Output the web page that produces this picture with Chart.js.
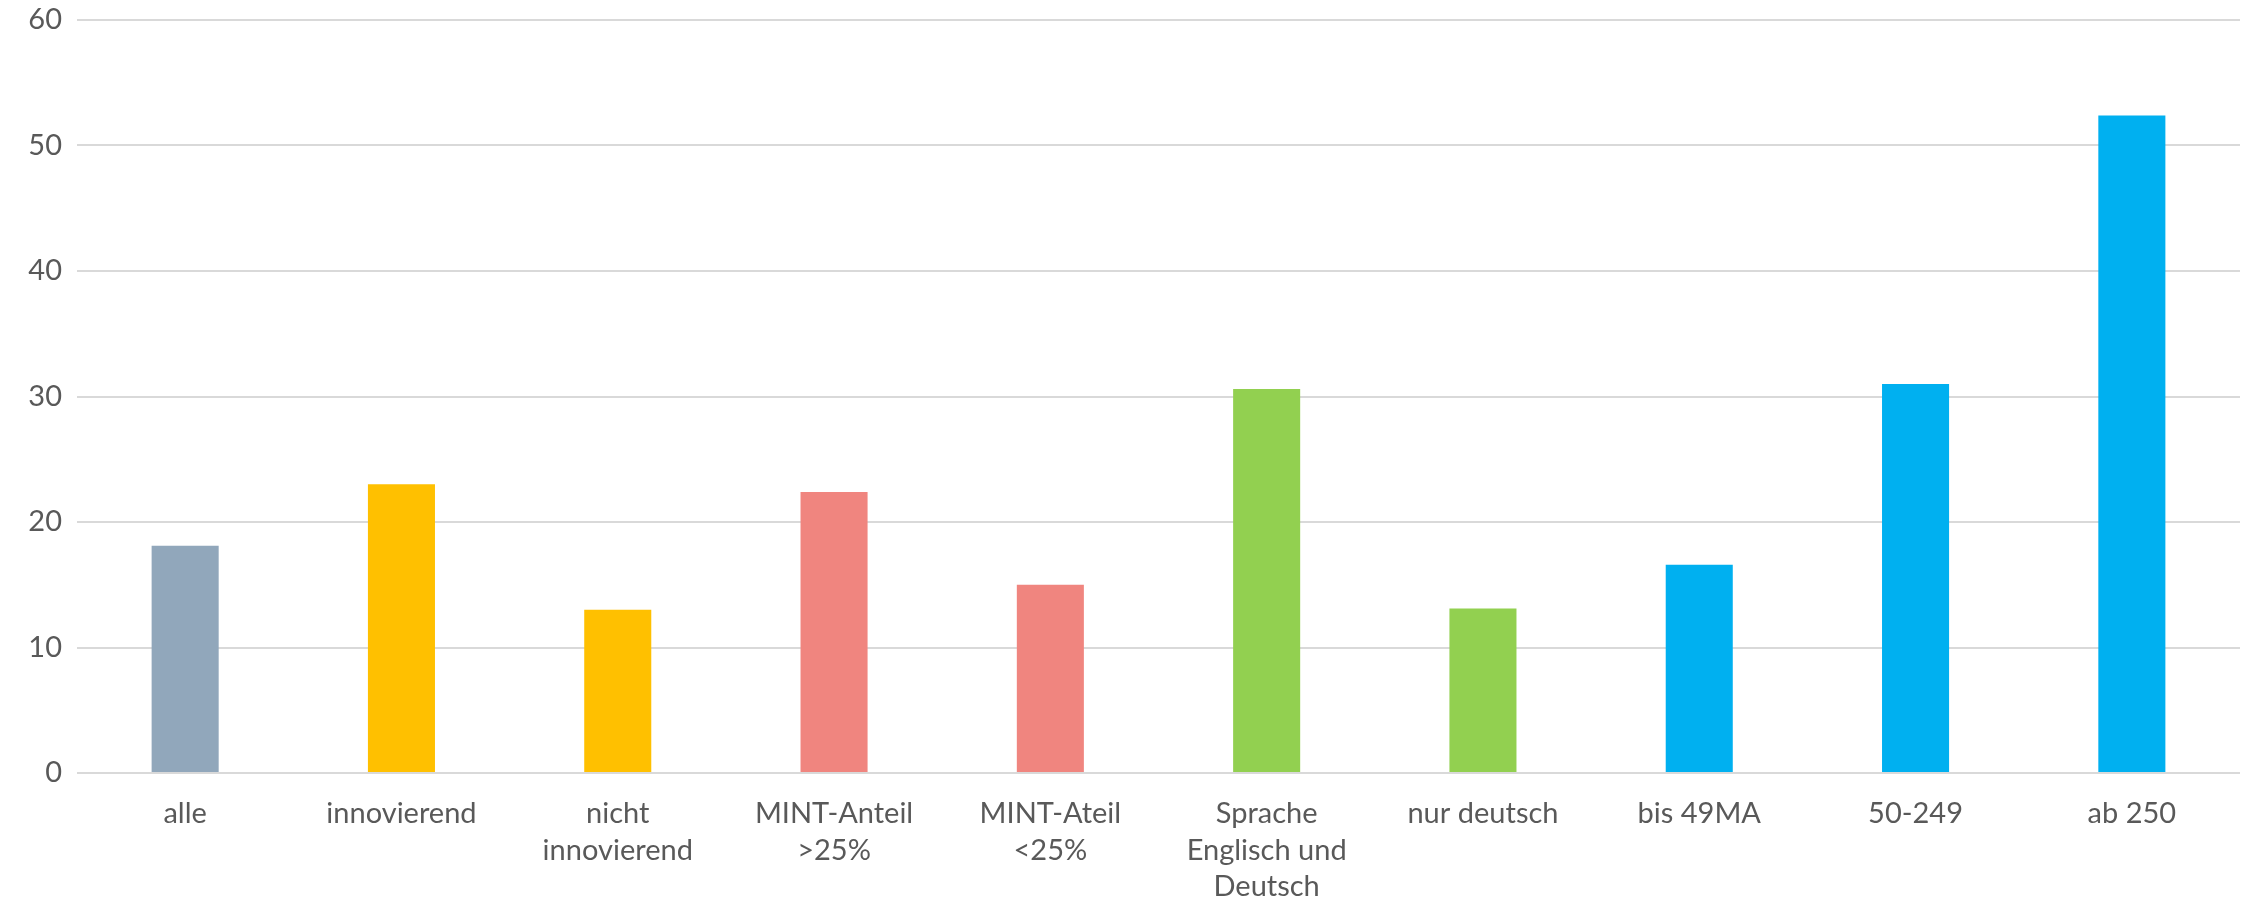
<!DOCTYPE html>
<html>
<head>
<meta charset="utf-8">
<script src="https://cdn.jsdelivr.net/npm/chart.js@4"></script>
<style>
  html, body { margin: 0; padding: 0; background: #ffffff; }
  #wrap { width: 2249px; height: 906px; }
</style>
</head>
<body>
<div id="wrap"><canvas id="c" width="2249" height="906"></canvas></div>
<script>
// Categories (multi-line labels as arrays)
const categories = [
  "alle",
  "innovierend",
  ["nicht", "innovierend"],
  ["MINT-Anteil", ">25%"],
  ["MINT-Ateil", "<25%"],
  ["Sprache", "Englisch und", "Deutsch"],
  "nur deutsch",
  "bis 49MA",
  "50-249",
  "ab 250"
];

// Values per category
const values = [18.1, 23.0, 13.0, 22.4, 15.0, 30.6, 13.1, 16.6, 31.0, 52.4];

// Y axis ticks
const yTicks = [0, 10, 20, 30, 40, 50, 60];

// Group colours
const barColors = [
  "#91A7BB",
  "#FFC000", "#FFC000",
  "#F0857F", "#F0857F",
  "#92D050", "#92D050",
  "#00B0F0", "#00B0F0", "#00B0F0"
];

const fontFamily = "Lato, 'Open Sans', sans-serif";
const textColor = "#595959";

new Chart(document.getElementById("c"), {
  type: "bar",
  data: {
    labels: categories,
    datasets: [{
      data: values,
      backgroundColor: barColors,
      borderWidth: 0,
      categoryPercentage: 1.0,
      barPercentage: 0.31
    }]
  },
  options: {
    responsive: false,
    animation: false,
    devicePixelRatio: 1,
    layout: { padding: { top: 20, right: 9, left: 0, bottom: 0 } },
    plugins: {
      legend: { display: false },
      tooltip: { enabled: false }
    },
    scales: {
      x: {
        grid: { display: false, drawTicks: false },
        border: { display: false },
        ticks: {
          color: textColor,
          font: { family: fontFamily, size: 29, lineHeight: 1.27 },
          padding: 22,
          maxRotation: 0,
          minRotation: 0,
          autoSkip: false
        },
        afterFit(scale) {
          scale.height = 133;
          scale.paddingTop = 0;
          scale.paddingBottom = 0;
        }
      },
      y: {
        min: yTicks[0],
        max: yTicks[yTicks.length - 1],
        afterBuildTicks(scale) { scale.ticks = yTicks.map(v => ({ value: v })); },
        grid: { color: "#D9D9D9", lineWidth: 2, drawTicks: false },
        border: { display: false },
        ticks: {
          color: textColor,
          font: { family: fontFamily, size: 29 },
          padding: 15
        },
        afterFit(scale) {
          scale.width = 77;
          scale.paddingTop = 0;
          scale.paddingBottom = 0;
        }
      }
    }
  }
});
</script>
</body>
</html>
